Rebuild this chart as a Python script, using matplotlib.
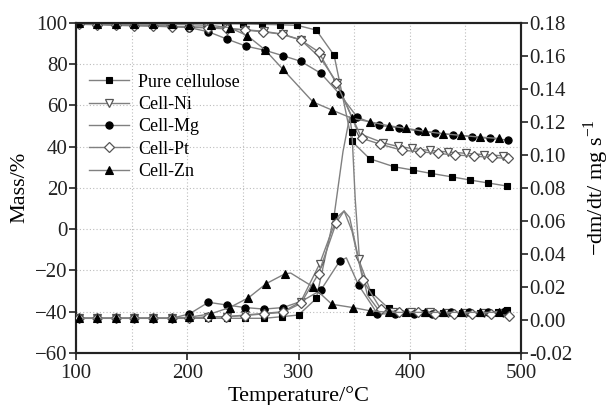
import numpy as np
import matplotlib
matplotlib.use("Agg")
import matplotlib.pyplot as plt
from matplotlib.ticker import MultipleLocator, FormatStrFormatter

plt.rcParams['font.family'] = ['Liberation Serif', 'DejaVu Serif']
plt.rcParams['mathtext.fontset'] = 'custom'
plt.rcParams['mathtext.rm'] = 'Liberation Serif'

# ---- TG (mass %) ----
t_pc_tg = [102, 118, 135, 151, 168, 184, 201, 217, 234, 250, 267, 283, 299, 316, 332, 348, 364, 386, 403, 419, 438, 454, 470, 487]
m_pc = [100, 100, 100, 100, 99.9, 99.8, 99.7, 99.6, 99.5, 99.4, 99.2, 99.0, 98.7, 96.4, 84.2, 42.5, 34.1, 30.2, 28.6, 27.0, 25.3, 23.8, 22.4, 20.9]

t_ni_tg = [103, 119, 136, 152, 169, 186, 202, 219, 236, 252, 269, 286, 302, 320, 335, 354, 376, 389, 402, 418, 434, 451, 467, 484]
m_ni = [99.5, 99.2, 99.0, 98.7, 98.5, 98.2, 98.0, 97.8, 97.3, 96.6, 95.8, 94.4, 91.7, 82.7, 70.6, 46.4, 41.8, 40.1, 39.1, 38.1, 37.4, 36.7, 36.1, 35.5]

t_mg_tg = [103, 119, 136, 152, 169, 186, 202, 219, 236, 253, 270, 286, 302, 320, 337, 353, 372, 390, 407, 423, 439, 456, 472, 488]
m_mg = [99.5, 99.3, 99.1, 98.9, 98.7, 98.3, 97.6, 95.6, 92.0, 88.6, 86.6, 84.0, 81.3, 75.5, 65.4, 54.1, 50.3, 49.1, 47.6, 46.7, 45.6, 44.7, 43.9, 43.2]

t_pt_tg = [103, 119, 136, 152, 169, 186, 202, 219, 236, 252, 268, 285, 302, 318, 334, 357, 373, 393, 409, 425, 441, 458, 474, 488]
m_pt = [99.2, 99.0, 98.7, 98.5, 98.3, 98.0, 97.8, 97.4, 97.0, 96.4, 95.6, 94.4, 91.6, 85.9, 70.6, 44.0, 41.2, 38.2, 37.5, 36.7, 35.9, 35.4, 34.7, 34.3]

t_zn_tg = [103, 119, 136, 152, 169, 186, 202, 221, 238, 254, 270, 286, 313, 330, 348, 364, 381, 397, 414, 430, 446, 463, 480]
m_zn = [99.7, 99.6, 99.5, 99.4, 99.3, 99.2, 99.0, 98.7, 97.6, 93.7, 86.8, 77.4, 61.6, 57.7, 53.7, 52.0, 50.1, 48.8, 47.3, 46.2, 45.4, 44.6, 43.9]

# ---- DTG (-dm/dt) ----
t_pc_d = [103, 119, 136, 152, 169, 186, 202, 219, 236, 252, 269, 285, 300, 316, 332, 340, 346, 348, 351, 355, 365, 381, 398, 414, 430, 447, 463, 479, 487]
d_pc = [0.001, 0.001, 0.001, 0.001, 0.001, 0.001, 0.001, 0.001, 0.001, 0.001, 0.001, 0.002, 0.003, 0.013, 0.063, 0.102, 0.123, 0.114, 0.073, 0.035, 0.017, 0.007, 0.005, 0.004, 0.004, 0.004, 0.004, 0.005, 0.006]
pc_d_marks = [0, 1, 2, 3, 4, 5, 6, 7, 8, 9, 10, 11, 12, 13, 14, 17, 20, 21, 22, 23, 24, 25, 26, 27, 28]

t_ni_d = [103, 119, 136, 152, 169, 186, 202, 219, 236, 252, 269, 286, 302, 319, 330, 336, 341, 346, 354, 362, 372, 385, 401, 418, 434, 451, 467, 484]
d_ni = [0.001, 0.001, 0.001, 0.001, 0.001, 0.001, 0.001, 0.002, 0.002, 0.003, 0.004, 0.005, 0.011, 0.034, 0.054, 0.063, 0.066, 0.062, 0.037, 0.015, 0.006, 0.005, 0.005, 0.005, 0.004, 0.004, 0.004, 0.004]
ni_d_marks = [0, 1, 2, 3, 4, 5, 6, 7, 8, 9, 10, 11, 12, 13, 18, 21, 22, 23, 24, 25, 26, 27]

t_mg_d = [103, 119, 136, 152, 169, 186, 202, 219, 236, 252, 269, 286, 303, 320, 337, 343, 354, 371, 387, 404, 420, 437, 453, 470, 486]
d_mg = [0.001, 0.001, 0.001, 0.001, 0.001, 0.001, 0.0037, 0.0107, 0.009, 0.0075, 0.0066, 0.0075, 0.0114, 0.018, 0.0356, 0.0376, 0.0211, 0.0037, 0.0037, 0.0037, 0.0037, 0.0046, 0.0046, 0.0046, 0.0056]
mg_d_marks = [0, 1, 2, 3, 4, 5, 6, 7, 8, 9, 10, 11, 13, 14, 16, 17, 18, 19, 20, 21, 22, 23, 24]

t_pt_d = [103, 119, 136, 152, 169, 186, 202, 219, 235, 252, 269, 286, 302, 318, 334, 341, 348, 358, 374, 390, 407, 423, 440, 456, 473, 489]
d_pt = [0.001, 0.001, 0.001, 0.001, 0.001, 0.001, 0.001, 0.0017, 0.002, 0.0027, 0.0037, 0.0046, 0.010, 0.028, 0.059, 0.066, 0.054, 0.024, 0.0066, 0.0046, 0.0046, 0.0037, 0.0037, 0.0037, 0.0037, 0.0027]
pt_d_marks = [0, 1, 2, 3, 4, 5, 6, 7, 8, 9, 10, 11, 12, 13, 14, 17, 18, 19, 20, 21, 22, 23, 24, 25]

t_zn_d = [103, 119, 136, 152, 169, 186, 202, 221, 238, 255, 271, 288, 293, 313, 330, 349, 364, 381, 397, 414, 430, 446, 463, 480]
d_zn = [0.001, 0.001, 0.001, 0.001, 0.001, 0.001, 0.0017, 0.0037, 0.0075, 0.0134, 0.022, 0.028, 0.0284, 0.0201, 0.0095, 0.0075, 0.0056, 0.0046, 0.0046, 0.0046, 0.0046, 0.0046, 0.0046, 0.0046]
zn_d_marks = [0, 1, 2, 3, 4, 5, 6, 7, 8, 9, 10, 11, 13, 14, 15, 16, 17, 18, 19, 20, 21, 22, 23]

labels = ['Pure cellulose', 'Cell-Ni', 'Cell-Mg', 'Cell-Pt', 'Cell-Zn']
markers = ['s', 'v', 'o', 'D', '^']
filled = [True, False, True, False, True]
sizes = [4.6, 5.6, 5.2, 4.6, 5.6]

line_c = '#808080'

fig = plt.figure(figsize=(6.09, 4.05), dpi=100)
ax = fig.add_axes([0.1248, 0.1284, 0.7307, 0.8156])
ax2 = ax.twinx()


def style(i):
    if filled[i]:
        return dict(marker=markers[i], ms=sizes[i], mfc='black', mec='black', mew=0.8)
    return dict(marker=markers[i], ms=sizes[i], mfc='white', mec='#555555', mew=0.9)


tg = [(t_pc_tg, m_pc), (t_ni_tg, m_ni), (t_mg_tg, m_mg), (t_pt_tg, m_pt), (t_zn_tg, m_zn)]
dtg = [(t_pc_d, d_pc, pc_d_marks), (t_ni_d, d_ni, ni_d_marks), (t_mg_d, d_mg, mg_d_marks),
       (t_pt_d, d_pt, pt_d_marks), (t_zn_d, d_zn, zn_d_marks)]

handles = []
for i in range(5):
    x, y = tg[i]
    h, = ax.plot(x, y, color=line_c, lw=1.0, label=labels[i], zorder=3, **style(i))
    handles.append(h)
    xd, yd, mk = dtg[i]
    ax2.plot(xd, yd, color=line_c, lw=1.0, markevery=mk, zorder=3, **style(i))

ax.set_xlim(100, 500)
ax.set_ylim(-60, 100)
ax2.set_ylim(-0.02, 0.18)

ax.xaxis.set_major_locator(MultipleLocator(100))
ax.xaxis.set_minor_locator(MultipleLocator(50))
ax.yaxis.set_major_locator(MultipleLocator(20))
ax2.yaxis.set_major_locator(MultipleLocator(0.02))
ax2.yaxis.set_major_formatter(FormatStrFormatter('%.2f'))

ax.grid(True, axis='x', which='both', ls=(0, (1, 2)), color='#bcbcbc', lw=0.8)
ax.grid(True, axis='y', which='major', ls=(0, (1, 2)), color='#bcbcbc', lw=0.8)
ax.set_axisbelow(True)

for a in (ax, ax2):
    for s in a.spines.values():
        s.set_linewidth(1.5)
        s.set_color('#222222')
    a.tick_params(direction='out', length=5, width=1.2, labelsize=15, pad=1, colors='#222222')
ax.tick_params(axis='x', which='major', pad=3)
ax.tick_params(axis='x', which='minor', length=0)

ax.set_xlabel('Temperature/°C', fontsize=16, labelpad=2)
ax.set_ylabel('Mass/%', fontsize=16, labelpad=4)
ax2.set_ylabel(r'$-$dm/dt/ mg s$^{-1}$', fontsize=16, labelpad=6)

ax.legend(handles=handles, loc='upper left', bbox_to_anchor=(0.03, 0.846), frameon=False,
          fontsize=13, borderpad=0, borderaxespad=0, labelspacing=0.3,
          handlelength=2.2, handletextpad=0.5)

fig.savefig('out.png', dpi=100)
